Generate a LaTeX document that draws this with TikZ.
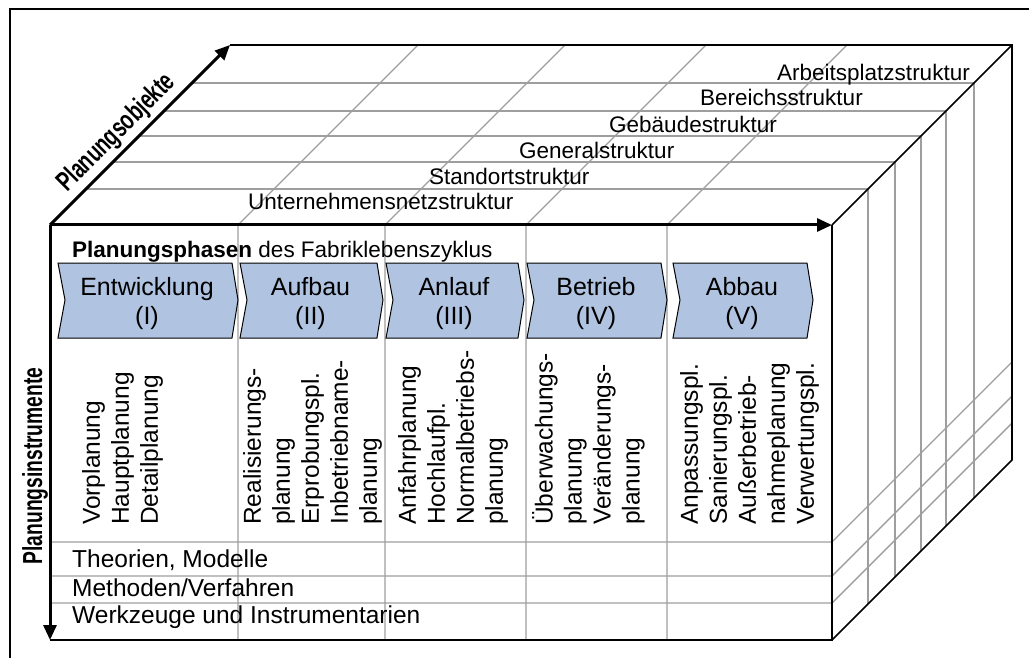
\documentclass[tikz,border=0pt]{standalone}
\usepackage{fontspec}
\setmainfont{Liberation Sans}
\usetikzlibrary{arrows.meta,calc}
\definecolor{phasefill}{RGB}{176,196,226}
\definecolor{gridgray}{RGB}{158,158,158}

\begin{document}
\begin{tikzpicture}[x=1pt,y=-1pt,
  grid/.style={gridgray,line width=1.4pt},
  edge/.style={black,line width=1.7pt},
  axis/.style={black,line width=3pt,-{Triangle[length=15pt,width=13pt]}},
  phasebox/.style={draw=black,line width=1pt,fill=phasefill,line join=miter},
  phasetext/.style={align=center,inner sep=0pt,font=\fontsize{25}{29}\selectfont},
  tasks/.style={rotate=90,anchor=north west,align=left,inner sep=0pt,font=\fontsize{24.5}{29}\selectfont},
  rowlabel/.style={anchor=base west,inner sep=0pt,font=\fontsize{24.5}{29}\selectfont},
  objlabel/.style={anchor=base west,inner sep=0pt,font=\fontsize{22.5}{27}\selectfont},
  axislabel/.style={inner sep=0pt,font=\fontsize{27.5}{32}\selectfont\bfseries},
]
\useasboundingbox (0,0) rectangle (1029,658);

% outer frame (only its top and left sides fall on the page)
\draw[line width=1.6pt] (10,700) -- (10,9) -- (1100,9);

% cube corners
\coordinate (FTL) at (50,225);
\coordinate (FTR) at (832,225);
\coordinate (FBL) at (50,640);
\coordinate (FBR) at (832,640);
\coordinate (BTL) at (230,45);
\coordinate (BTR) at (1012,45);
\coordinate (BBR) at (1012,460);

% phase columns: front face and their continuation on the top face
\foreach \cx in {238,385,526,667} {
  \draw[grid] (\cx,640) -- (\cx,225) -- (\cx+180,45);
}
% instrument rows: front face and right face
\foreach \ry in {542,576,603} {
  \draw[grid] (50,\ry) -- (832,\ry) -- (1012,\ry-180);
}
% planning object layers: top face and right face
\foreach \oy in {83,111,136,162,189} {
  \draw[grid] ({50+225-\oy},\oy) -- ({832+225-\oy},\oy) -- ({832+225-\oy},{640-225+\oy});
}

% cube edges
\draw[edge] (FTR) -- (FBR) -- (FBL);
\draw[edge] (BTL) -- (BTR) -- (BBR) -- (FBR);
\draw[edge] (FTR) -- (BTR);

% axes
\draw[axis] (FTL) -- (FTR);
\draw[axis] (FTL) -- (BTL);
\draw[axis] (FTL) -- (FBL);

\node[axislabel,rotate=45] (objaxis) at (117,133) {\scalebox{0.7}[1]{Planungsobjekte}};
\node[axislabel,rotate=90,anchor=north] (instaxis) at (22,466) {\scalebox{0.7}[1]{Planungsinstrumente}};

% planning objects
\node[objlabel] (o1) at (248,210) {Unternehmensnetzstruktur};
\node[objlabel] (o2) at (429,185) {Standortstruktur};
\node[objlabel] (o3) at (519,159) {Generalstruktur};
\node[objlabel] (o4) at (609,133) {Gebäudestruktur};
\node[objlabel] (o5) at (700,106) {Bereichsstruktur};
\node[objlabel] (o6) at (777,81) {Arbeitsplatzstruktur};

% planning phases
\node[objlabel] (head) at (72,257) {\textbf{Planungsphasen} des Fabriklebenszyklus};
\foreach \l/\r/\nm/\txt/\num in {58/232/p1/Entwicklung/I, 240/377/p2/Aufbau/II, 386/518/p3/Anlauf/III, 527/661/p4/Betrieb/IV, 673/807/p5/Abbau/V} {
  \draw[phasebox] (\l,263) -- (\r,263) -- (\r+6,300) -- (\r,338) -- (\l,338) -- (\l+7,300) -- cycle;
  \node[phasetext] (\nm) at ({(\l+\r)/2+2},304) {\txt\\(\num)};
}

% planning tasks per phase
\node[tasks] (t1) at (82,525) {Vorplanung\\Hauptplanung\\Detailplanung};
\node[tasks] (t2) at (243,525) {Realisierungs-\\planung\\Erprobungspl.\\Inbetriebname-\\planung};
\node[tasks] (t3) at (398,525) {Anfahrplanung\\Hochlaufpl.\\Normalbetriebs-\\planung};
\node[tasks] (t4) at (532,525) {Überwachungs-\\planung\\Veränderungs-\\planung};
\node[tasks] (t5) at (680,525) {Anpassungspl.\\Sanierungspl.\\Außerbetrieb-\\nahmeplanung\\Verwertungspl.};

% planning instruments
\node[rowlabel] (r1) at (72,567) {Theorien, Modelle};
\node[rowlabel] (r2) at (72,596) {Methoden/Verfahren};
\node[rowlabel] (r3) at (72,623) {Werkzeuge und Instrumentarien};
\end{tikzpicture}
\end{document}
